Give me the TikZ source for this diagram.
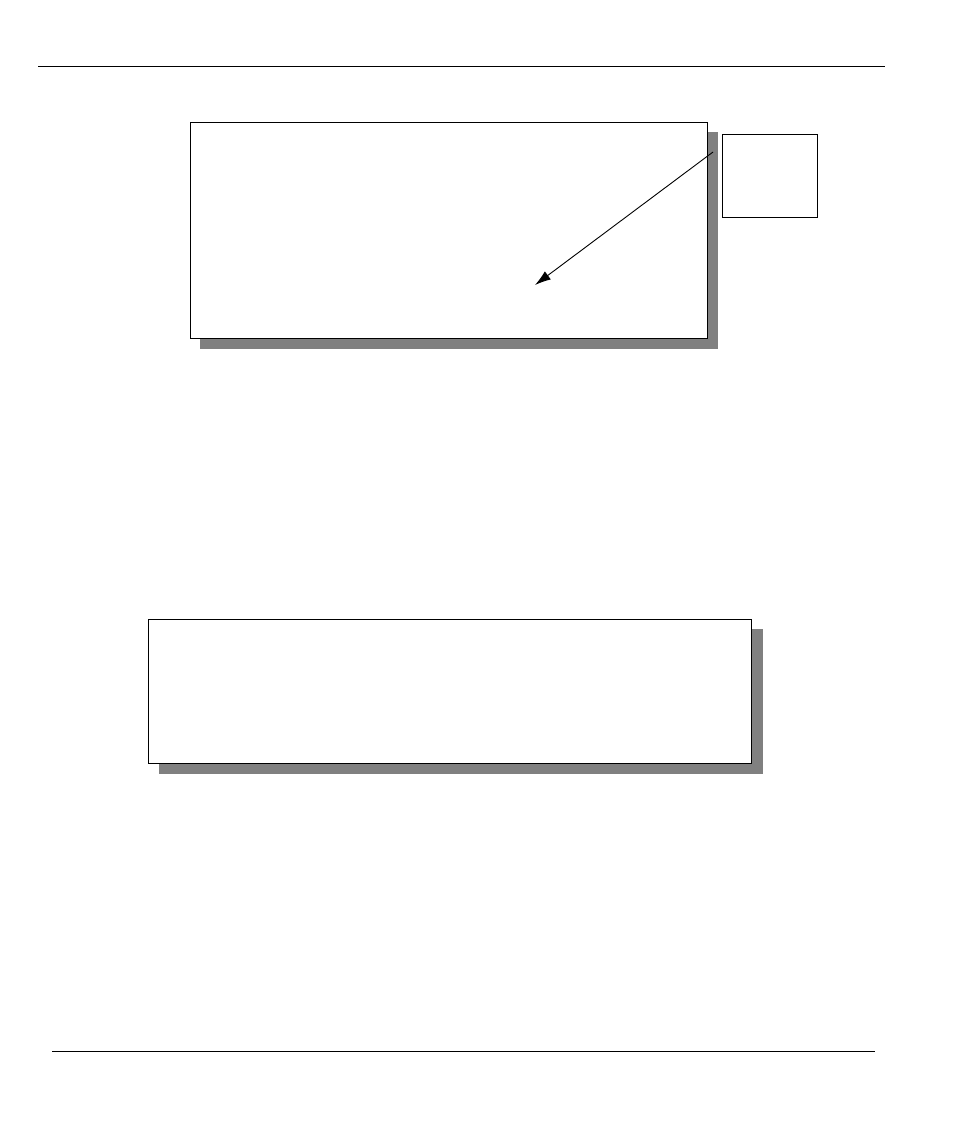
\documentclass[tikz,border=0pt]{standalone}
\usetikzlibrary{arrows.meta}
\tikzset{
  rule/.style={line width=1pt, black},
  panel/.style={draw=black, line width=1.2pt, fill=white, anchor=north west, inner sep=0pt},
  shade/.style={fill=black!50, draw=none, anchor=north west, inner sep=0pt},
  smallbox/.style={draw=black, line width=0.9pt, fill=white, anchor=north west, inner sep=0pt},
  pointer/.style={line width=0.9pt, -{Latex[length=16pt,width=10pt]}}
}
\begin{document}
\begin{tikzpicture}[x=1pt,y=-1pt]
\useasboundingbox (0,0) rectangle (954,1132);
% header and footer rules
\coordinate (hl) at (38,67);
\coordinate (hr) at (885,67);
\coordinate (fl) at (52,1051);
\coordinate (fr) at (875,1051);
\draw[rule] (hl) -- (hr);
\draw[rule] (fl) -- (fr);
% first panel
\node[shade, minimum width=518pt, minimum height=217pt] (sh1) at (200,132) {};
\node[panel, minimum width=517pt, minimum height=216pt] (p1) at (190,122) {};
\node[smallbox, minimum width=95pt, minimum height=83pt] (sb) at (722,134) {};
\coordinate (as) at (713,152);
\coordinate (ae) at (535,285);
\draw[pointer] (as) -- (ae);
% second panel
\node[shade, minimum width=604pt, minimum height=145pt] (sh2) at (159,629) {};
\node[panel, minimum width=603pt, minimum height=144pt] (p2) at (148,619) {};
\end{tikzpicture}
\end{document}
